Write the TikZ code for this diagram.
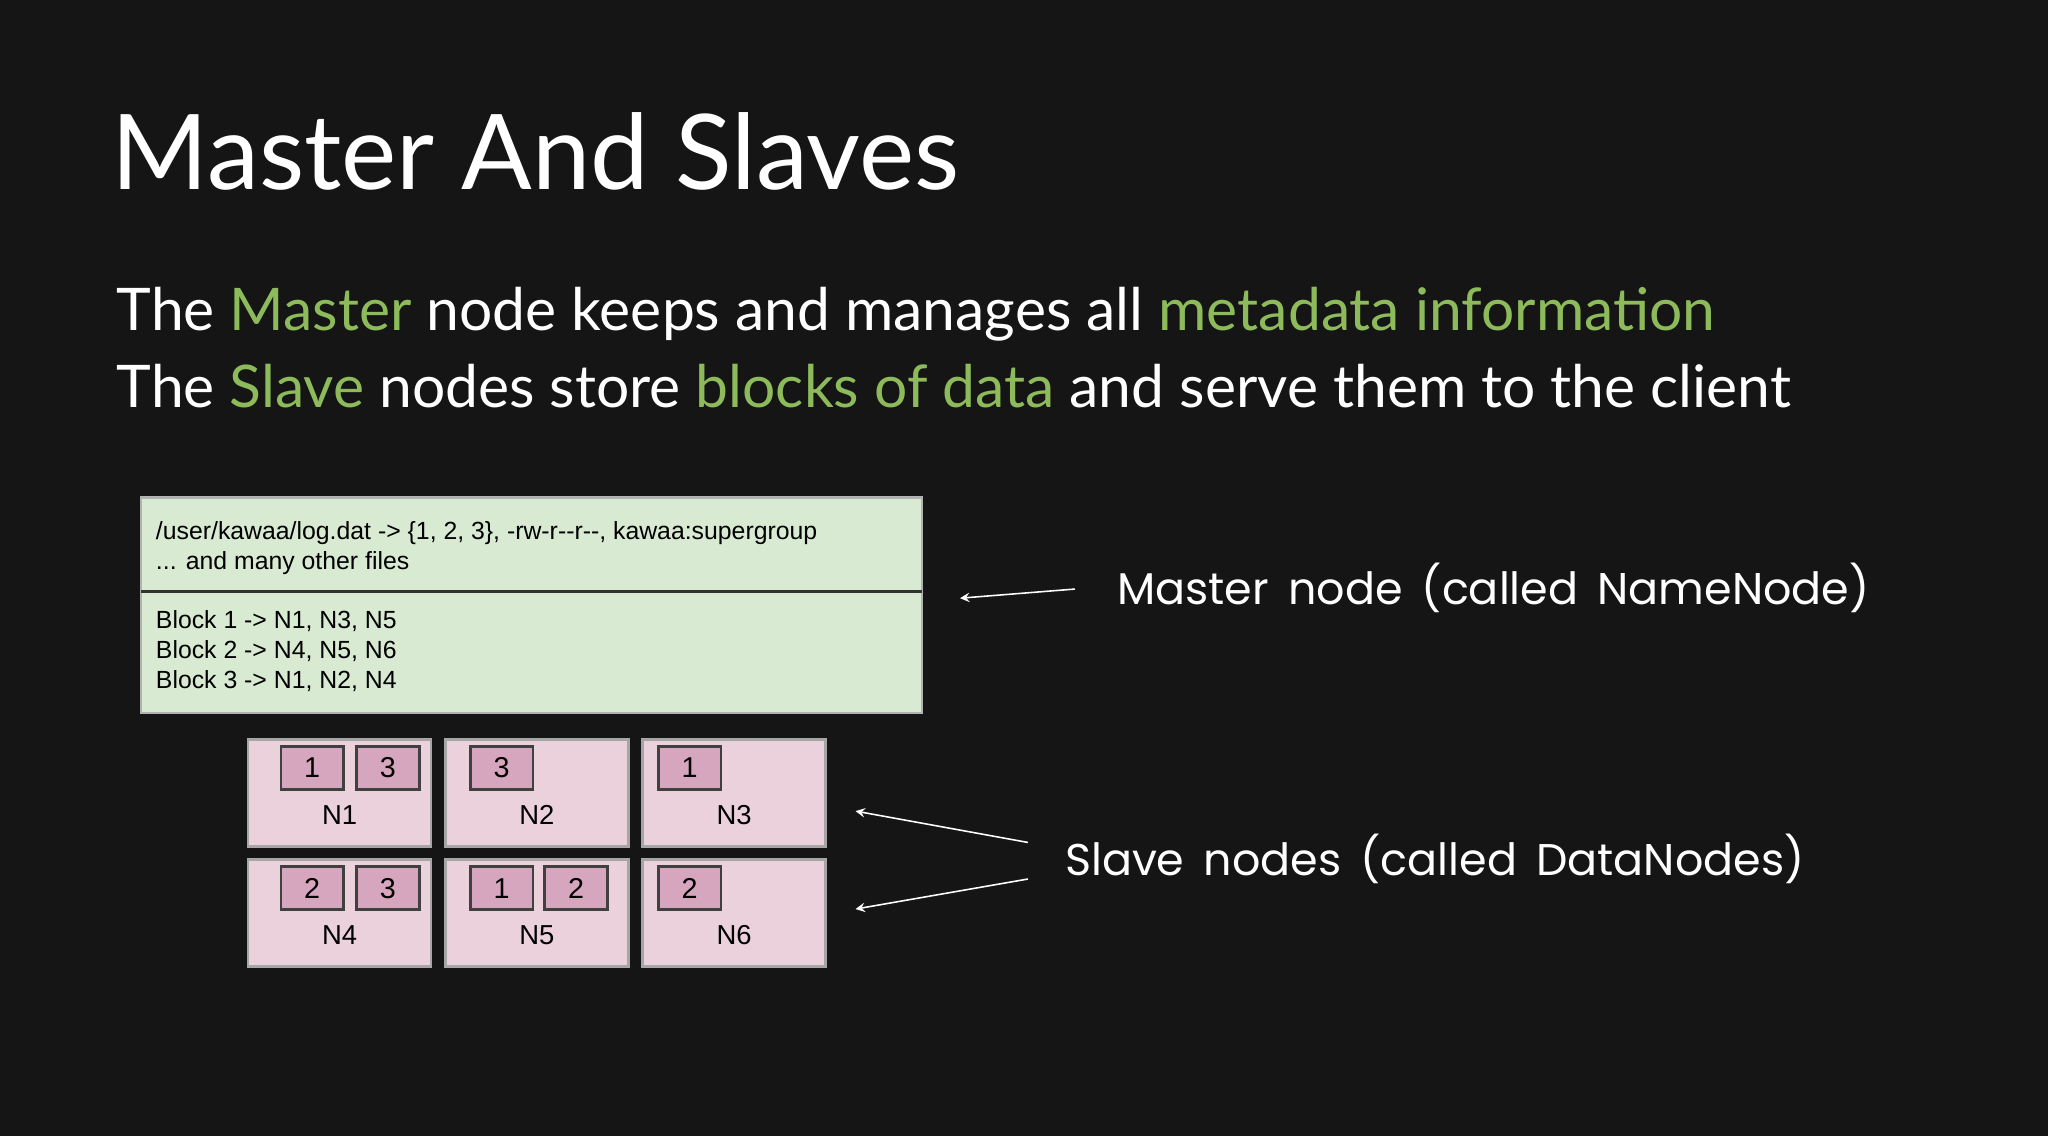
\documentclass[tikz,border=0pt]{standalone}
\usepackage{fontspec}
\setmainfont{Lato}
\newfontfamily\arialf{Liberation Sans}
\newfontfamily\handf{Poppins}
\definecolor{bg}{HTML}{151515}
\definecolor{hl}{HTML}{8DBA5A}
\definecolor{mfill}{HTML}{D9EAD3}
\definecolor{pfill}{HTML}{EAD1DC}
\definecolor{bfill}{HTML}{D5A6BD}
\begin{document}
\begin{tikzpicture}[x=0.5pt,y=-0.5pt,
  ntext/.style={anchor=base west,inner sep=0,font=\arialf\fontsize{9.5}{11}\selectfont,text=black},
  slave/.style={draw=gray!70,fill=pfill,line width=1pt,minimum width=70pt,minimum height=41pt,inner sep=0},
  blk/.style={draw=black!75,fill=bfill,line width=1pt,minimum width=24pt,minimum height=16.5pt,inner sep=0,font=\arialf\fontsize{11}{12}\selectfont},
  nlab/.style={font=\arialf\fontsize{10.5}{12}\selectfont,inner sep=0},
  hand/.style={anchor=base west,inner sep=0,text=white,font=\handf\fontsize{17}{20}\selectfont},
  arr/.style={draw=white,line width=0.6pt,-stealth}]
\fill[bg] (0,0) rectangle (1568,870);
\node[anchor=base west,inner sep=0,text=white,font=\fontsize{40}{46}\selectfont] (title) at (85,145) {Master And Slaves};
\node[anchor=base west,inner sep=0,text=white,font=\fontsize{22.5}{26}\selectfont] (l1) at (89,253) {The \textcolor{hl}{Master} node keeps and manages all \textcolor{hl}{metadata information}};
\node[anchor=base west,inner sep=0,text=white,font=\fontsize{22.5}{26}\selectfont] (l2) at (89,312) {The \textcolor{hl}{Slave} nodes store \textcolor{hl}{blocks of data} and serve them to the client};
% master box
\draw[fill=mfill,draw=gray!60,line width=1pt] (108,381) rectangle (706,546);
\draw[black!80,line width=1.2pt] (108,453) -- (706,453);
\coordinate (mb) at (706,458);
\node[ntext] (t1) at (119,413) {/user/kawaa/log.dat -> \{1, 2, 3\}, -rw-r--r--, kawaa:supergroup};
\node[ntext] (t2) at (119,436) {... and many other files};
\node[ntext] (t3) at (119,481) {Block 1 -> N1, N3, N5};
\node[ntext] (t4) at (119,504) {Block 2 -> N4, N5, N6};
\node[ntext] (t5) at (119,527) {Block 3 -> N1, N2, N4};
% slaves
\foreach \n/\x/\y in {N1/260/607,N2/411/607,N3/562/607,N4/260/699,N5/411/699,N6/562/699}{
  \node[slave] (\n) at (\x,\y) {};
  \node[nlab] at (\x,\y+17) {\n};
}
\foreach \nm/\x/\y/\t in {a/239/588/1,b/297/588/3,c/384/588/3,d/528/588/1,e/239/680/2,f/297/680/3,g/384/680/1,h/441/680/2,i/528/680/2}{
  \node[blk] (b\nm) at (\x,\y) {\t};
}
% labels and arrows
\node[hand] (ml) at (855,463) {Master\, node\, (called\, NameNode)};
\node[hand] (sl) at (815,670) {Slave\, nodes\, (called\, DataNodes)};
\coordinate (ma) at (823,451);
\coordinate (me) at (735,458);
\draw[arr] (ma) -- (me);
\coordinate (s1) at (787,645);
\coordinate (s2) at (787,673);
\coordinate (e1) at (655,621);
\coordinate (e2) at (655,696);
\draw[arr] (s1) -- (e1);
\draw[arr] (s2) -- (e2);
\end{tikzpicture}
\end{document}
